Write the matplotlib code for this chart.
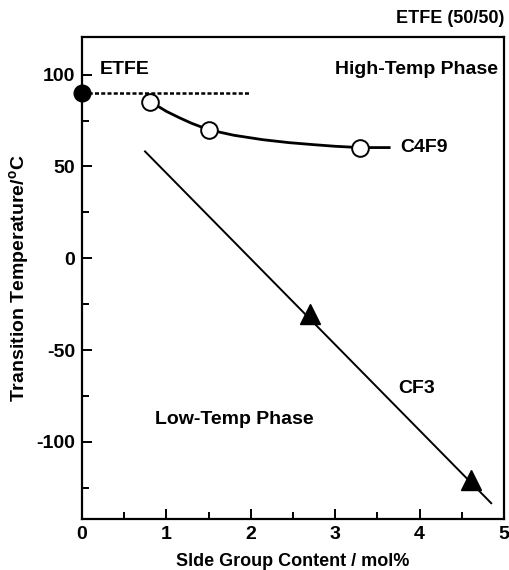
import matplotlib
matplotlib.use("Agg")
import matplotlib.pyplot as plt
from matplotlib.ticker import MultipleLocator

plt.rcParams['font.family'] = ['Liberation Sans', 'DejaVu Sans']
plt.rcParams['font.weight'] = 'bold'
plt.rcParams['axes.unicode_minus'] = False

# ETFE reference point and its level line
etfe_x = [0.0]
etfe_y = [90.0]
etfe_line_x = [0.0, 1.98]
etfe_line_y = [90.0, 90.0]

c4f9_x = [0.81, 1.5, 3.29]
c4f9_y = [85.3, 70.0, 60.3]
c4f9_curve_x = [0.81, 1.0, 1.16, 1.3, 1.5, 1.8, 2.14, 2.45, 2.74, 3.0, 3.29, 3.64]
c4f9_curve_y = [85.3, 80.0, 76.4, 73.5, 70.0, 67.0, 64.6, 63.0, 61.9, 61.0, 60.3, 60.3]

# CF3 side group: measured points and linear guide
cf3_x = [2.70, 4.61]
cf3_y = [-30.5, -120.7]
cf3_line_x = [0.746, 4.85]
cf3_line_y = [58.2, -133.4]

fig = plt.figure(figsize=(5.1, 5.7), dpi=100)
ax = fig.add_axes([0.161, 0.0895, 0.827, 0.8455])

ax.plot(etfe_line_x, etfe_line_y, color='black', lw=1.8, ls=(0, (1.6, 0.9)))
ax.plot(c4f9_curve_x, c4f9_curve_y, color='black', lw=2.0)
ax.plot(cf3_line_x, cf3_line_y, color='black', lw=1.4)

ax.plot(etfe_x, etfe_y, 'o', ms=12, mfc='black', mec='black', clip_on=False, zorder=5)
ax.plot(c4f9_x, c4f9_y, 'o', ms=12, mfc='white', mec='black', mew=1.4, zorder=5)
ax.plot(cf3_x, cf3_y, '^', ms=14, mfc='black', mec='black', zorder=5)

ax.set_xlim(0, 5)
ax.set_ylim(-142, 120.5)
ax.xaxis.set_major_locator(MultipleLocator(1))
ax.xaxis.set_minor_locator(MultipleLocator(0.5))
ax.yaxis.set_major_locator(MultipleLocator(50))
ax.yaxis.set_minor_locator(MultipleLocator(25))
ax.tick_params(which='both', direction='in', top=False, right=False,
               width=1.4, labelsize=14)
ax.tick_params(which='major', length=7, pad=5)
ax.tick_params(which='minor', length=5)
for s in ax.spines.values():
    s.set_linewidth(1.6)

ax.set_xlabel('Slde Group Content / mol%', fontsize=13, fontweight='bold', labelpad=7)
ax.set_ylabel('Transition Temperature/$\\mathregular{^{o}}$C', fontsize=14,
              fontweight='bold', labelpad=4)

tkw = dict(fontsize=14, fontweight='bold')
ax.text(0.21, 102.7, 'ETFE', ha='left', va='center', **tkw)
ax.text(4.93, 102.7, 'High-Temp Phase', ha='right', va='center', **tkw)
ax.text(3.77, 60.5, 'C4F9', ha='left', va='center', **tkw)
ax.text(3.97, -71, 'CF3', ha='center', va='center', **tkw)
ax.text(1.8, -88, 'Low-Temp Phase', ha='center', va='center', **tkw)
ax.text(1.0, 1.02, 'ETFE (50/50)', transform=ax.transAxes, ha='right',
        va='bottom', fontsize=13, fontweight='bold')

fig.savefig('out.png', dpi=100)
